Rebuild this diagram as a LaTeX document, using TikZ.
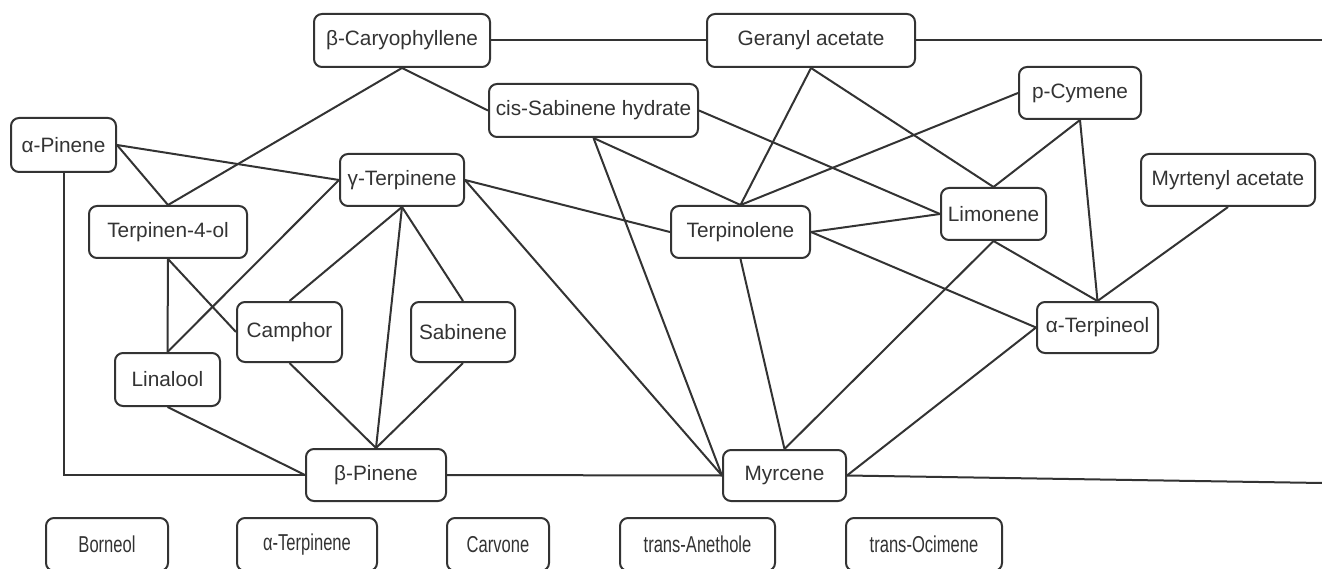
\documentclass[tikz,border=0pt]{standalone}
\usepackage{fontspec}
\setmainfont{Liberation Sans}
\newfontfamily\narrowfont[FakeStretch=0.72]{Liberation Sans}
\definecolor{ink}{HTML}{333333}
\begin{document}
\begin{tikzpicture}[x=1pt,y=-1pt,
  box/.style={draw=ink, text=ink, line width=2pt, rounded corners=8pt, inner sep=0pt,
    font=\fontsize{20.8}{24}\selectfont, fill=white},
  nbox/.style={box, font=\narrowfont\fontsize{23}{26}\selectfont},
  edge/.style={draw=ink, line width=2pt}]
\useasboundingbox (0,0) rectangle (1322,569);
\coordinate (gerR) at (1322,40.5);
\coordinate (myrR) at (1322,483);
\path
  (402,40.5)   node[box, minimum width=176pt, minimum height=53pt] (bcar) {β-Caryophyllene}
  (811,40.5)   node[box, minimum width=208pt, minimum height=53pt] (ger) {Geranyl acetate}
  (593.5,110.5) node[box, minimum width=209pt, minimum height=53pt] (cis) {cis-Sabinene hydrate}
  (1080,93)    node[box, minimum width=122pt, minimum height=52pt] (pcym) {p-Cymene}
  (63.5,145)   node[box, minimum width=105pt, minimum height=54pt] (apin) {α-Pinene}
  (402,180)    node[box, minimum width=124pt, minimum height=52pt] (gter) {γ-Terpinene}
  (1228,180)   node[box, minimum width=174pt, minimum height=52pt] (myrt) {Myrtenyl acetate}
  (993.5,214)  node[box, minimum width=105pt, minimum height=52pt] (lim) {Limonene}
  (168,232)    node[box, minimum width=158pt, minimum height=52pt] (t4ol) {Terpinen-4-ol}
  (740.5,232)  node[box, minimum width=139pt, minimum height=52pt] (terp) {Terpinolene}
  (289.5,332)  node[box, minimum width=105pt, minimum height=60pt] (camph) {Camphor}
  (463,332)    node[box, minimum width=104pt, minimum height=60pt] (sab) {Sabinene}
  (1097.5,327.5) node[box, minimum width=121pt, minimum height=51pt] (aterp) {α-Terpineol}
  (167.5,379.5) node[box, minimum width=105pt, minimum height=53pt] (lin) {Linalool}
  (376,475)    node[box, minimum width=140pt, minimum height=52pt] (bpin) {β-Pinene}
  (784.5,475.5) node[box, minimum width=123pt, minimum height=51pt] (myrc) {Myrcene}
  (107,544.5)  node[nbox, minimum width=122pt, minimum height=53pt] (born) {Borneol}
  (307,544.5)  node[nbox, minimum width=140pt, minimum height=53pt] (aterpn) {α-Terpinene}
  (498,544.5)  node[nbox, minimum width=102pt, minimum height=53pt] (carv) {Carvone}
  (697.5,544.5) node[nbox, minimum width=155pt, minimum height=53pt] (anet) {trans-Anethole}
  (924,544.5)  node[nbox, minimum width=156pt, minimum height=53pt] (ocim) {trans-Ocimene};
\draw[edge] (bcar.east) -- (ger.west);
\draw[edge] (ger.east) -- (gerR);
\draw[edge] (bcar.south) -- (t4ol.north);
\draw[edge] (bcar.south) -- (cis.west);
\draw[edge] (apin.east) -- (gter.west);
\draw[edge] (apin.east) -- (t4ol.north);
\draw[edge] (apin.south) |- (bpin.west);
\draw[edge] (t4ol.south) -- (lin.north);
\draw[edge] (t4ol.south) -- (camph.west);
\draw[edge] (gter.west) -- (lin.north);
\draw[edge] (gter.south) -- (camph.north);
\draw[edge] (gter.south) -- (bpin.north);
\draw[edge] (gter.south) -- (sab.north);
\draw[edge] (gter.east) -- (terp.west);
\draw[edge] (gter.east) -- (myrc.west);
\draw[edge] (camph.south) -- (bpin.north);
\draw[edge] (sab.south) -- (bpin.north);
\draw[edge] (lin.south) -- (bpin.west);
\draw[edge] (bpin.east) -- (myrc.west);
\draw[edge] (cis.south) -- (terp.north);
\draw[edge] (cis.south) -- (myrc.west);
\draw[edge] (cis.east) -- (lim.west);
\draw[edge] (ger.south) -- (terp.north);
\draw[edge] (ger.south) -- (lim.north);
\draw[edge] (terp.north) -- (pcym.west);
\draw[edge] (terp.east) -- (lim.west);
\draw[edge] (terp.east) -- (aterp.west);
\draw[edge] (terp.south) -- (myrc.north);
\draw[edge] (pcym.south) -- (aterp.north);
\draw[edge] (pcym.south) -- (lim.north);
\draw[edge] (myrt.south) -- (aterp.north);
\draw[edge] (lim.south) -- (aterp.north);
\draw[edge] (lim.south) -- (myrc.north);
\draw[edge] (aterp.west) -- (myrc.east);
\draw[edge] (myrc.east) -- (myrR);
\end{tikzpicture}
\end{document}
